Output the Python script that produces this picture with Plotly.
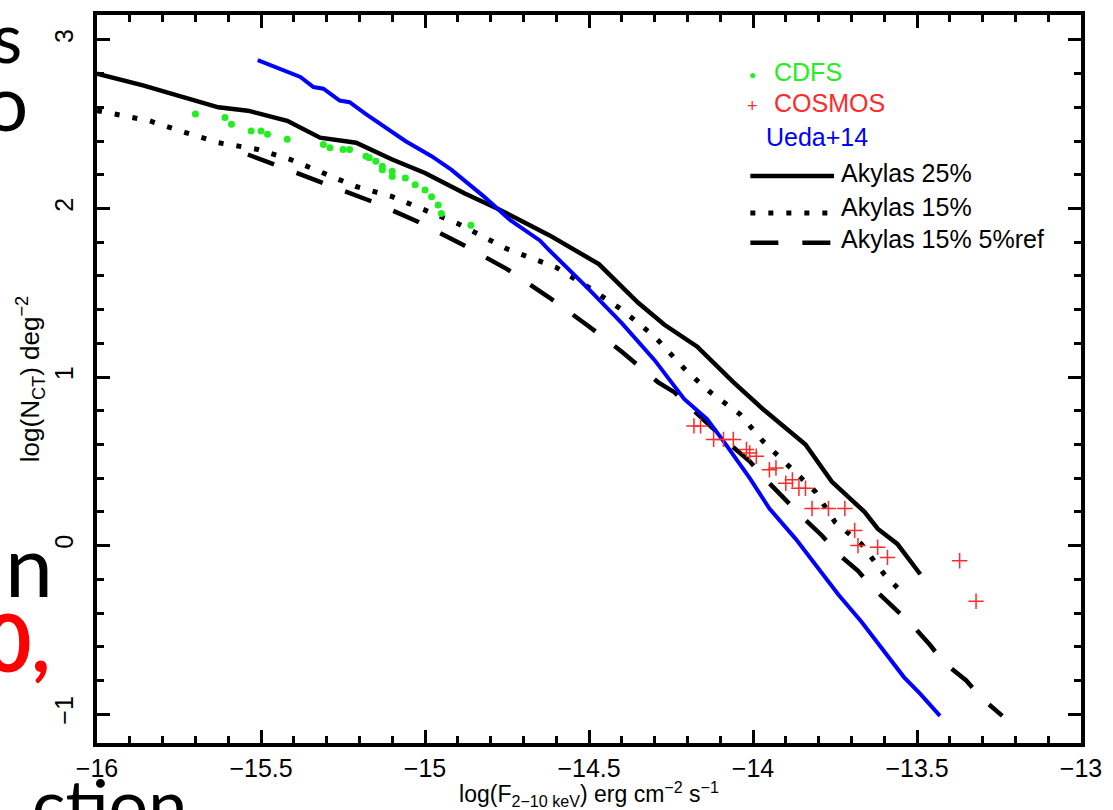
import plotly.graph_objects as go

# ---------------- data ----------------
ak25_x = [-16.0, -15.86, -15.63, -15.54, -15.42, -15.32, -15.21, -15.10, -15.00, -14.88,
          -14.78, -14.62, -14.47, -14.35, -14.27, -14.17, -14.06, -13.97, -13.84, -13.76,
          -13.66, -13.62, -13.56, -13.49]
ak25_y = [2.80, 2.73, 2.60, 2.58, 2.52, 2.42, 2.39, 2.29, 2.21, 2.09,
          2.00, 1.84, 1.67, 1.44, 1.31, 1.18, 0.97, 0.81, 0.60, 0.38,
          0.20, 0.10, 0.01, -0.17]

ak15_x = [-16.0, -15.95, -15.84, -15.73, -15.63, -15.51, -15.41, -15.31, -15.21, -15.10,
          -15.00, -14.90, -14.80, -14.75, -14.60, -14.50, -14.40, -14.30, -14.20, -14.13,
          -14.04, -13.97, -13.89, -13.81, -13.75, -13.67, -13.60, -13.56]
ak15_y = [2.58, 2.56, 2.52, 2.45, 2.39, 2.35, 2.29, 2.21, 2.13, 2.07,
          1.99, 1.91, 1.81, 1.76, 1.65, 1.53, 1.40, 1.24, 1.03, 0.91,
          0.78, 0.62, 0.47, 0.32, 0.14, 0.01, -0.17, -0.25]

ak15ref_x = [-15.54, -15.46, -15.31, -15.16, -15.02, -14.88, -14.75, -14.62, -14.50, -14.40,
             -14.29, -14.24, -14.07, -14.01, -13.96, -13.90, -13.85, -13.79, -13.74, -13.68,
             -13.63, -13.57, -13.52, -13.46, -13.42, -13.35, -13.30, -13.24]
ak15ref_y = [2.32, 2.26, 2.15, 2.04, 1.92, 1.78, 1.64, 1.47, 1.30, 1.15,
             0.97, 0.91, 0.60, 0.50, 0.39, 0.27, 0.17, 0.06, -0.05, -0.15,
             -0.26, -0.37, -0.46, -0.59, -0.69, -0.80, -0.91, -1.01]

ueda_x = [-15.51, -15.47, -15.44, -15.38, -15.34, -15.31, -15.26, -15.23, -15.18, -15.11,
          -15.06, -14.98, -14.92, -14.82, -14.74, -14.65, -14.62, -14.50, -14.40, -14.30,
          -14.25, -14.21, -14.14, -14.09, -14.01, -13.95, -13.87, -13.77, -13.74, -13.67,
          -13.61, -13.54, -13.49, -13.43]
ueda_y = [2.88, 2.85, 2.83, 2.78, 2.72, 2.71, 2.64, 2.63, 2.56, 2.47,
          2.40, 2.31, 2.23, 2.07, 1.93, 1.81, 1.75, 1.52, 1.32, 1.10,
          0.97, 0.87, 0.75, 0.62, 0.40, 0.22, 0.04, -0.21, -0.29, -0.45,
          -0.60, -0.78, -0.88, -1.01]

cdfs_x = [-15.70, -15.61, -15.59, -15.53, -15.50, -15.48, -15.42, -15.31, -15.29, -15.25,
          -15.23, -15.18, -15.17, -15.15, -15.13, -15.13, -15.10, -15.10, -15.06, -15.03,
          -15.00, -14.98, -14.96, -14.95, -14.86]
cdfs_y = [2.56, 2.54, 2.50, 2.46, 2.46, 2.44, 2.41, 2.38, 2.36, 2.35,
          2.35, 2.31, 2.30, 2.28, 2.25, 2.23, 2.22, 2.19, 2.18, 2.14,
          2.11, 2.07, 2.02, 1.97, 1.90]

cosmos_x = [-14.18, -14.16, -14.12, -14.09, -14.06, -14.02, -14.01, -13.99, -13.95, -13.93,
            -13.90, -13.88, -13.86, -13.84, -13.82, -13.77, -13.72, -13.69, -13.68, -13.62,
            -13.59, -13.37, -13.32]
cosmos_y = [0.71, 0.71, 0.63, 0.63, 0.63, 0.57, 0.55, 0.53, 0.45, 0.46,
            0.37, 0.39, 0.34, 0.34, 0.22, 0.22, 0.22, 0.09, 0.00, -0.01,
            -0.07, -0.09, -0.33]

x_ticks = [-16, -15.5, -15, -14.5, -14, -13.5, -13]
y_ticks = [-1, 0, 1, 2, 3]

legend_labels = ["CDFS", "COSMOS", "Ueda+14", "Akylas 25%", "Akylas 15%", "Akylas 15% 5%ref"]

# ---------------- figure ----------------
W, H = 1113, 810
ML, MR, MT, MB = 97, 28, 11, 67
PW, PH = W - ML - MR, H - MT - MB


def px(xp):
    return (xp - ML) / PW


def py(yp):
    return (H - MB - yp) / PH


def lab(v):
    s = ("%g" % abs(v))
    return ("−" + s) if v < 0 else s


BLACK = "#000000"
BLUE = "#0000ff"
GREEN = "#22ee22"
RED = "#ff2a2a"
DOT = "5px,13px"
LDASH = "28px,24px"
TICKFONT = "Liberation Sans Narrow, Liberation Sans, Arial, sans-serif"
AXFONT = "Liberation Sans, Arial, sans-serif"

fig = go.Figure()
fig.add_trace(go.Scatter(x=ak25_x, y=ak25_y, mode="lines",
                         line=dict(color=BLACK, width=4.5), showlegend=False))
fig.add_trace(go.Scatter(x=ak15_x, y=ak15_y, mode="lines",
                         line=dict(color=BLACK, width=5, dash=DOT), showlegend=False))
fig.add_trace(go.Scatter(x=ak15ref_x, y=ak15ref_y, mode="lines",
                         line=dict(color=BLACK, width=4.5, dash=LDASH), showlegend=False))
fig.add_trace(go.Scatter(x=ueda_x, y=ueda_y, mode="lines",
                         line=dict(color=BLUE, width=4), showlegend=False))
fig.add_trace(go.Scatter(x=cdfs_x, y=cdfs_y, mode="markers",
                         marker=dict(color=GREEN, size=7), showlegend=False))
fig.add_trace(go.Scatter(x=cosmos_x, y=cosmos_y, mode="markers",
                         marker=dict(symbol="cross-thin", size=11,
                                     line=dict(color=RED, width=1.5)),
                         showlegend=False))

tickfont = dict(family=TICKFONT, size=25, color=BLACK)

fig.update_xaxes(range=[-16, -13], tickmode="array", tickvals=x_ticks,
                 ticktext=[lab(v) for v in x_ticks],
                 ticks="inside", ticklen=13, tickwidth=3, tickcolor=BLACK,
                 showline=True, linewidth=3.5, linecolor=BLACK, mirror="allticks",
                 showgrid=False, zeroline=False, tickfont=tickfont, ticklabelstandoff=0,
                 minor=dict(dtick=0.1, tick0=-16, ticks="inside", ticklen=7,
                            tickwidth=3, tickcolor=BLACK, showgrid=False),
                 title=dict(text="log(F<sub>2−10 keV</sub>) erg cm<sup>−2</sup> s<sup>−1</sup>",
                            font=dict(family=AXFONT, size=23, color=BLACK), standoff=0))
fig.update_yaxes(range=[-1.171, 3.1475], tickmode="array", tickvals=y_ticks,
                 ticktext=[lab(v) for v in y_ticks],
                 tickangle=-90,
                 ticks="inside", ticklen=13, tickwidth=3, tickcolor=BLACK,
                 showline=True, linewidth=3.5, linecolor=BLACK, mirror="allticks",
                 showgrid=False, zeroline=False, tickfont=tickfont, ticklabelstandoff=10,
                 minor=dict(dtick=0.2, tick0=-1, ticks="inside", ticklen=7,
                            tickwidth=3, tickcolor=BLACK, showgrid=False),
                 title=dict(text="log(N<sub>CT</sub>) deg<sup>−2</sup>",
                            font=dict(family=AXFONT, size=26, color=BLACK), standoff=4))

# ---------------- legend (drawn like the R legend) ----------------
lfont = "Liberation Sans, Arial"
ann = []
shapes = []
ann.append(dict(x=px(755), y=py(71), xref="paper", yref="paper", text="●", showarrow=False,
                font=dict(family=lfont, size=12, color=GREEN), xanchor="center", yanchor="middle"))
ann.append(dict(x=px(755), y=py(103), xref="paper", yref="paper", text="+", showarrow=False,
                font=dict(family=lfont, size=18, color=RED), xanchor="center", yanchor="middle"))
text_pos = [(775, 68, GREEN), (775, 99, RED), (767, 134, BLUE),
            (842, 170, BLACK), (842, 204, BLACK), (842, 236, BLACK)]
for labtxt, (xx, yy, col) in zip(legend_labels, text_pos):
    ann.append(dict(x=px(xx), y=py(yy), xref="paper", yref="paper", text=labtxt, showarrow=False,
                    font=dict(family=lfont, size=25, color=col), xanchor="left", yanchor="middle"))
for yy, dash, wd in [(173, "solid", 4.5), (210, DOT, 5), (240, LDASH, 4.5)]:
    shapes.append(dict(type="line", xref="paper", yref="paper", x0=px(753), x1=px(837),
                       y0=py(yy), y1=py(yy), line=dict(color=BLACK, width=wd, dash=dash)))

# ---------------- slide text fragments at the left edge ----------------
sfont = "Lato, Noto Sans, sans-serif"
frag = [("s", 24, 32, BLACK, False, "right", 70),
        ("o", 30, 97, BLACK, False, "right", 78),
        ("n", 55, 563, BLACK, False, "right", 86),
        ("0,", 52, 640, "#ff0000", True, "right", 80),
        ("ction", 30, 803, BLACK, False, "left", 70)]
for t, xx, yy, col, bold, anc, sz in frag:
    ann.append(dict(x=px(xx), y=py(yy), xref="paper", yref="paper",
                    text=("<b>%s</b>" % t) if bold else t, showarrow=False,
                    font=dict(family=sfont, size=sz, color=col), xanchor=anc, yanchor="middle"))

fig.update_layout(width=W, height=H, margin=dict(l=ML, r=MR, t=MT, b=MB),
                  paper_bgcolor="white", plot_bgcolor="white",
                  annotations=ann, shapes=shapes, showlegend=False)

fig.write_html("out.html")
